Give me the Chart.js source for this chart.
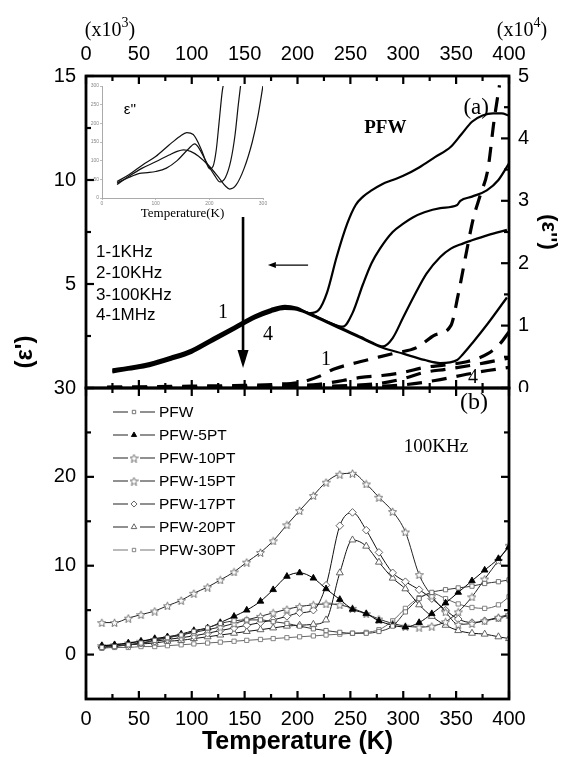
<!DOCTYPE html>
<html><head><meta charset="utf-8">
<script src="https://cdn.jsdelivr.net/npm/chart.js@4.4.1/dist/chart.umd.min.js"></script>
<style>
html,body{margin:0;padding:0;background:#fff;}
#wrap{position:relative;width:562px;height:757px;overflow:hidden;background:#fff;}
canvas{position:absolute;}
</style></head><body>
<div id="wrap">
<canvas id="top" width="562" height="392" style="left:0;top:0"></canvas>
<canvas id="bot" width="562" height="387" style="left:0;top:370px"></canvas>
<canvas id="ins" width="185" height="142" style="left:88px;top:80px"></canvas>
</div>
<script>
// ================= DATA =================
// Panel (a): epsilon' (x10^3, left axis), four frequencies
const FREQ_LABELS = ['1-1KHz','2-10KHz','3-100KHz','4-1MHz'];
const T_E1_1 = [25,40,60,80,100,120,140,160,175,188,200,212,220,228,237,247,255,262,270,280,290,300,315,330,345,355,365,375,385,393,400];
const E1_1   = [0.9,1.0,1.2,1.5,1.85,2.4,2.95,3.5,3.8,3.95,3.85,3.6,3.75,4.6,6.3,7.9,8.8,9.2,9.5,9.8,10.0,10.2,10.6,11.1,11.6,12.2,12.8,13.1,13.2,13.2,13.1];
const T_E1_2 = [25,40,60,80,100,120,140,160,175,188,200,215,230,243,252,262,270,278,290,300,309,320,335,351,354,365,379,390,400];
const E1_2   = [0.85,0.97,1.15,1.45,1.8,2.35,2.9,3.45,3.75,3.9,3.8,3.5,3.15,2.95,3.6,5.0,6.0,6.7,7.5,7.9,8.2,8.45,8.65,8.8,9.0,9.2,9.5,10.0,10.8];
const T_E1_3 = [25,40,60,80,100,120,140,160,175,188,200,215,230,245,260,270,281,290,300,310,322,335,345,354,365,380,398];
const E1_3   = [0.8,0.93,1.1,1.4,1.75,2.3,2.85,3.4,3.7,3.85,3.8,3.5,3.15,2.8,2.45,2.2,2.0,2.4,3.4,4.4,5.5,6.3,6.7,6.9,7.1,7.35,7.6];
const T_E1_4 = [25,40,60,80,100,120,140,160,175,188,200,215,230,245,260,280,300,320,335,351,356,366,380,398];
const E1_4   = [0.75,0.88,1.05,1.35,1.7,2.25,2.8,3.35,3.65,3.8,3.75,3.45,3.1,2.75,2.4,1.95,1.65,1.35,1.2,1.35,1.6,2.2,3.1,4.35];
// Panel (a): epsilon'' (x10^4, right axis), dashed
const T_E2_1 = [20,60,100,140,180,205,221,234,259,290,313,330,345,352,360,366,373,380,386,391];
const E2_1   = [0.01,0.02,0.03,0.04,0.06,0.1,0.19,0.3,0.42,0.55,0.65,0.85,1.0,1.5,2.2,2.7,3.1,3.5,4.3,4.85];
const T_E2_2 = [20,100,180,220,243,260,280,300,320,340,360,380,392,400];
const E2_2   = [0.01,0.015,0.03,0.06,0.12,0.17,0.2,0.25,0.33,0.37,0.42,0.55,0.72,0.9];
const T_E2_3 = [20,120,200,250,280,300,320,340,370,400];
const E2_3   = [0.01,0.01,0.02,0.04,0.08,0.15,0.25,0.3,0.38,0.48];
const T_E2_4 = [20,150,250,300,330,360,380,400];
const E2_4   = [0.005,0.01,0.02,0.05,0.12,0.22,0.28,0.33];
// Inset: epsilon'' low-T
const T_IN_A = [28,50,75,100,125,145,158,170,185,195,201,207,213,218,224,227];
const IN_A   = [44,62,88,111,142,165,175,170,130,92,78,85,130,200,285,310];
const T_IN_B = [28,50,70,85,100,120,140,160,173,180,195,210,220,230,240,248,254,259];
const IN_B   = [40,55,66,68,71,80,100,130,145,135,95,60,43,55,100,170,250,310];
const T_IN_C = [28,50,75,100,125,140,152,165,180,200,220,230,238,250,265,280,290,301];
const IN_C   = [36,58,80,97,115,125,129,125,112,85,50,32,24,35,80,150,215,310];
// Panel (b): 100KHz
const LEGEND_LABELS = ['PFW','PFW-5PT','PFW-10PT','PFW-15PT','PFW-17PT','PFW-20PT','PFW-30PT'];
const T_B  = [15,27,40,52,65,77,90,102,115,127,140,152,165,177,190,202,215,227,240,252,265,277,290,302,315,327,340,352,365,377,390,400];
const PFW  = [0.8,0.9,1.1,1.3,1.6,1.9,2.2,2.6,3.0,3.5,3.8,3.9,3.9,3.7,3.5,3.2,2.9,2.7,2.5,2.4,2.4,2.6,3.2,4.8,6.3,7.0,7.3,7.5,7.7,8.0,8.2,8.4];
const P5   = [1.0,1.1,1.3,1.5,1.8,2.0,2.3,2.7,3.0,3.6,4.3,5.0,6.0,7.3,8.8,9.2,8.6,7.4,6.2,5.1,4.6,3.8,3.3,3.1,3.6,4.6,5.8,7.0,8.3,9.5,10.8,12.1];
const P10  = [1.0,1.1,1.3,1.5,1.7,1.9,2.2,2.5,2.8,3.1,3.5,3.9,4.3,4.7,5.1,5.4,5.6,5.7,5.6,5.2,4.6,4.0,3.5,3.2,3.1,3.2,3.7,4.8,6.5,8.5,10.6,12.3];
const P15  = [3.6,3.6,4.1,4.5,4.9,5.5,6.1,6.9,7.6,8.4,9.3,10.4,11.5,12.8,14.6,16.2,17.9,19.4,20.3,20.4,19.2,17.7,16.1,13.8,9.0,6.6,4.8,3.4,3.5,3.8,4.2,4.5];
const P17  = [0.9,1.0,1.1,1.3,1.5,1.7,1.9,2.1,2.4,2.7,3.0,3.3,3.6,3.9,4.3,4.7,5.0,7.8,14.5,16.0,14.0,11.5,9.2,8.2,7.3,6.3,5.0,4.0,3.6,3.8,4.1,4.4];
const P20  = [0.9,1.0,1.1,1.2,1.3,1.5,1.6,1.8,2.0,2.2,2.4,2.6,2.8,3.0,3.2,3.3,3.4,3.9,9.2,12.9,12.2,10.4,8.6,7.4,5.6,4.3,3.3,2.7,2.4,2.3,2.0,1.8];
const P30  = [0.7,0.8,0.8,0.9,0.9,1.0,1.1,1.2,1.3,1.4,1.5,1.6,1.7,1.8,1.9,2.0,2.1,2.2,2.3,2.4,2.5,2.8,3.8,5.2,6.4,6.9,6.3,5.7,5.3,5.2,5.6,6.5];
// Tick values
const X_TICKS   = [0,50,100,150,200,250,300,350,400];
const X_MINOR   = [25,75,125,175,225,275,325,375];
const YA_TICKS  = [0,5,10,15];
const YA_MINOR  = [2.5,7.5,12.5];
const YAR_TICKS = [0,1,2,3,4,5];
const YAR_MINOR = [0.5,1.5,2.5,3.5,4.5];
const YB_TICKS  = [0,10,20,30];
const YB_MINOR  = [5,15,25];
const IN_X_TICKS = [0,100,200,300];
const IN_Y_TICKS = [0,50,100,150,200,250,300];

// ================= HELPERS =================
const SANS = "'Liberation Sans', Arial, Helvetica, sans-serif";
const SERIF = "'Liberation Serif', 'Times New Roman', Times, serif";
Chart.defaults.font.family = SANS;
Chart.defaults.color = '#000';
const pts = (t, v) => t.map((x, i) => ({x: x, y: v[i]}));
const setTicks = vals => s => { s.ticks = vals.map(v => ({value: v})); };
const fixSize = (prop, val) => s => { s[prop] = val; s.paddingLeft = 0; s.paddingRight = 0; s.paddingTop = 0; s.paddingBottom = 0; };
const noGrid = {display: false, drawTicks: false};
const noBorder = {display: false};

function drawFrame(chart, cfg) {
  const {ctx, chartArea: a, scales} = chart;
  const xs = scales.x, yl = scales[cfg.yl], yr = scales[cfg.yr];
  ctx.save();
  ctx.strokeStyle = '#000'; ctx.lineWidth = 2.2;
  const L = (x1, y1, x2, y2) => { ctx.beginPath(); ctx.moveTo(x1, y1); ctx.lineTo(x2, y2); ctx.stroke(); };
  const MAJ = 8, MIN = 5;
  X_TICKS.forEach(v => { const p = xs.getPixelForValue(v); L(p, a.top, p, a.top + MAJ); L(p, a.bottom, p, a.bottom - MAJ); });
  X_MINOR.forEach(v => { const p = xs.getPixelForValue(v); L(p, a.top, p, a.top + MIN); L(p, a.bottom, p, a.bottom - MIN); });
  cfg.ylMaj.forEach(v => { const p = yl.getPixelForValue(v); L(a.left, p, a.left + MAJ, p); });
  cfg.ylMin.forEach(v => { const p = yl.getPixelForValue(v); L(a.left, p, a.left + MIN, p); });
  cfg.yrMaj.forEach(v => { const p = yr.getPixelForValue(v); L(a.right, p, a.right - MAJ, p); });
  cfg.yrMin.forEach(v => { const p = yr.getPixelForValue(v); L(a.right, p, a.right - MIN, p); });
  ctx.lineWidth = 2.8;
  ctx.strokeRect(a.left, a.top, a.right - a.left, a.bottom - a.top);
  ctx.restore();
}
function supText(ctx, base, sup, cx, cy, size) {
  ctx.font = size + 'px ' + SERIF;
  const wb = ctx.measureText(base).width;
  ctx.font = Math.round(size * 0.68) + 'px ' + SERIF;
  const ws = ctx.measureText(sup).width;
  ctx.font = size + 'px ' + SERIF;
  const wc = ctx.measureText(')').width;
  const total = wb + ws + wc;
  let x = cx - total / 2;
  ctx.textAlign = 'left'; ctx.textBaseline = 'middle';
  ctx.fillText(base, x, cy); x += wb;
  ctx.font = Math.round(size * 0.68) + 'px ' + SERIF;
  ctx.fillText(sup, x, cy - size * 0.38); x += ws;
  ctx.font = size + 'px ' + SERIF;
  ctx.fillText(')', x, cy);
}
function arrow(ctx, x1, y1, x2, y2, lw, hl, hw) {
  const ang = Math.atan2(y2 - y1, x2 - x1);
  const bx = x2 - hl * Math.cos(ang), by = y2 - hl * Math.sin(ang);
  ctx.lineWidth = lw;
  ctx.beginPath(); ctx.moveTo(x1, y1); ctx.lineTo(bx, by); ctx.stroke();
  ctx.beginPath(); ctx.moveTo(x2, y2);
  ctx.lineTo(bx + hw * Math.sin(ang), by - hw * Math.cos(ang));
  ctx.lineTo(bx - hw * Math.sin(ang), by + hw * Math.cos(ang));
  ctx.closePath(); ctx.fill();
}
function makeStar(size, color) {
  const c = document.createElement('canvas'); c.width = c.height = size;
  const g = c.getContext('2d');
  g.beginPath();
  for (let i = 0; i < 10; i++) {
    const ang = -Math.PI / 2 + i * Math.PI / 5;
    const rr = i % 2 ? size * 0.21 : size * 0.47;
    g.lineTo(size / 2 + rr * Math.cos(ang), size / 2 + 0.6 + rr * Math.sin(ang));
  }
  g.closePath(); g.fillStyle = '#fff'; g.fill();
  g.strokeStyle = color; g.lineWidth = 0.9; g.stroke();
  return c;
}

// ================= PANEL (a) =================
const e1Sets = [[T_E1_1, E1_1], [T_E1_2, E1_2], [T_E1_3, E1_3], [T_E1_4, E1_4]];
const e2Sets = [[T_E2_1, E2_1], [T_E2_2, E2_2], [T_E2_3, E2_3], [T_E2_4, E2_4]];
const dsA = [];
e1Sets.forEach(([t, v]) => dsA.push({data: pts(t, v), yAxisID: 'yL', borderColor: '#000', borderWidth: 2.2, pointRadius: 0, cubicInterpolationMode: 'monotone', fill: false}));
e2Sets.forEach(([t, v]) => dsA.push({data: pts(t, v), yAxisID: 'yR', borderColor: '#000', borderWidth: 3.2, borderDash: [15, 10], pointRadius: 0, cubicInterpolationMode: 'monotone', fill: false}));

const annotA = {
  id: 'annotA',
  afterDraw(chart) {
    drawFrame(chart, {yl: 'yL', yr: 'yR', ylMaj: YA_TICKS, ylMin: YA_MINOR, yrMaj: YAR_TICKS, yrMin: YAR_MINOR});
    const {ctx, scales} = chart;
    const X = v => scales.x.getPixelForValue(v), Y = v => scales.yL.getPixelForValue(v);
    ctx.save();
    ctx.fillStyle = '#000'; ctx.strokeStyle = '#000';
    ctx.font = '17px ' + SANS; ctx.textAlign = 'left'; ctx.textBaseline = 'middle';
    const fy = [6.54, 5.53, 4.47, 3.51];
    FREQ_LABELS.forEach((s, i) => ctx.fillText(s, X(9.5), Y(fy[i])));
    ctx.font = '20px ' + SERIF; ctx.textAlign = 'center';
    [['1', 129.5, 3.6], ['4', 172, 2.55], ['1', 227, 1.35], ['4', 366, 0.48]].forEach(([s, t, v]) => ctx.fillText(s, X(t), Y(v)));
    ctx.font = 'bold 19px ' + SERIF; ctx.fillText('PFW', X(283), Y(12.5));
    ctx.font = '23px ' + SERIF; ctx.fillText('(a)', X(369), Y(13.45));
    arrow(ctx, X(148.5), Y(8.22), X(148.5), Y(0.96), 2.6, 18, 5.5);
    arrow(ctx, X(210), Y(5.91), X(172), Y(5.91), 1.2, 8, 3);
    supText(ctx, '(x10', '3', 110, 31, 20);
    supText(ctx, '(x10', '4', 522, 31, 20);
    ctx.save();
    ctx.translate(25, 352); ctx.rotate(-Math.PI / 2);
    ctx.font = 'bold 24px ' + SANS; ctx.textAlign = 'center'; ctx.textBaseline = 'middle';
    ctx.fillText("(\u03B5')", 0, 0);
    ctx.restore();
    ctx.restore();
  }
};

new Chart(document.getElementById('top'), {
  type: 'line',
  data: {datasets: dsA},
  options: {
    responsive: false, animation: false, devicePixelRatio: 1, events: [],
    layout: {padding: {left: 0, right: 0, top: 0, bottom: 4}},
    plugins: {legend: {display: false}, tooltip: {enabled: false}},
    scales: {
      x: {type: 'linear', position: 'top', min: 0, max: 400, grid: noGrid, border: noBorder,
          afterBuildTicks: setTicks(X_TICKS), afterFit: fixSize('height', 76),
          ticks: {font: {size: 20}, padding: 10, maxRotation: 0, autoSkip: false}},
      yL: {type: 'linear', position: 'left', min: 0, max: 15, grid: noGrid, border: noBorder,
           afterBuildTicks: setTicks(YA_TICKS), afterFit: fixSize('width', 86),
           ticks: {font: {size: 20}, padding: 10, callback: v => v === 0 ? '' : String(v)}},
      yR: {type: 'linear', position: 'right', min: 0, max: 5, grid: noGrid, border: noBorder,
           afterBuildTicks: setTicks(YAR_TICKS), afterFit: fixSize('width', 53),
           ticks: {font: {size: 20}, padding: 9},
           title: {display: true, text: "(\u03B5'')", font: {size: 22, weight: 'bold'}, padding: {top: 1, bottom: 0}}}
    }
  },
  plugins: [annotA]
});

// ================= INSET =================
const annotIn = {
  id: 'annotIn',
  afterDraw(chart) {
    const {ctx, scales} = chart;
    ctx.save();
    ctx.fillStyle = '#000'; ctx.font = '15px ' + SANS; ctx.textAlign = 'center'; ctx.textBaseline = 'middle';
    ctx.fillText("\u03B5''", scales.x.getPixelForValue(52), scales.y.getPixelForValue(236));
    ctx.restore();
  }
};
const inGrid = {display: true, drawOnChartArea: false, drawTicks: true, tickLength: 2, color: '#aaa', lineWidth: 0.8};
new Chart(document.getElementById('ins'), {
  type: 'line',
  data: {datasets: [[T_IN_A, IN_A], [T_IN_B, IN_B], [T_IN_C, IN_C]].map(([t, v]) => ({data: pts(t, v), borderColor: '#111', borderWidth: 1.2, pointRadius: 0, cubicInterpolationMode: 'monotone', fill: false}))},
  options: {
    responsive: false, animation: false, devicePixelRatio: 1, events: [],
    layout: {padding: {left: 0, right: 10, top: 6, bottom: 0}},
    plugins: {legend: {display: false}, tooltip: {enabled: false}},
    scales: {
      x: {type: 'linear', min: 0, max: 300, position: 'bottom', grid: inGrid, border: {display: true, color: '#aaa', width: 1},
          afterBuildTicks: setTicks(IN_X_TICKS), afterFit: fixSize('height', 24),
          ticks: {font: {size: 5}, color: '#888', padding: 1, maxRotation: 0, autoSkip: false},
          title: {display: true, text: 'Temperature(K)', font: {family: SERIF, size: 13}, color: '#000', padding: {top: 0, bottom: 1}}},
      y: {type: 'linear', min: 0, max: 300, grid: inGrid, border: {display: true, color: '#aaa', width: 1},
          afterBuildTicks: setTicks(IN_Y_TICKS), afterFit: fixSize('width', 14),
          ticks: {font: {size: 5}, color: '#888', padding: 1, autoSkip: false}}
    }
  },
  plugins: [annotIn]
});

// ================= PANEL (b) =================
const STAR = makeStar(9, '#666');
const styleB = [
  {d: PFW, ps: 'rect', r: 3, bg: '#fff', bc: '#666', lc: '#333'},
  {d: P5, ps: 'triangle', r: 3.8, bg: '#000', bc: '#000', lc: '#000'},
  {d: P10, ps: STAR, r: 4, bg: '#fff', bc: '#666', lc: '#222'},
  {d: P15, ps: STAR, r: 4, bg: '#fff', bc: '#666', lc: '#222'},
  {d: P17, ps: 'rectRot', r: 3.8, bg: '#fff', bc: '#555', lc: '#111'},
  {d: P20, ps: 'triangle', r: 4, bg: '#fff', bc: '#555', lc: '#111'},
  {d: P30, ps: 'rect', r: 3, bg: '#fff', bc: '#777', lc: '#666'}
];
const dsB = styleB.map((s, i) => ({
  label: LEGEND_LABELS[i], data: pts(T_B, s.d), yAxisID: 'yL', borderColor: s.lc, borderWidth: 1, cubicInterpolationMode: 'monotone',
  pointStyle: s.ps, pointRadius: s.r, pointBackgroundColor: s.bg, pointBorderColor: s.bc, pointBorderWidth: 0.9, fill: false
}));
const annotB = {
  id: 'annotB',
  afterDraw(chart) {
    drawFrame(chart, {yl: 'yL', yr: 'yR', ylMaj: YB_TICKS, ylMin: YB_MINOR, yrMaj: YB_TICKS, yrMin: YB_MINOR});
    const {ctx, scales, chartArea: a} = chart;
    const X = v => scales.x.getPixelForValue(v), Y = v => scales.yL.getPixelForValue(v);
    ctx.save();
    ctx.fillStyle = '#000';
    ctx.font = '24px ' + SERIF; ctx.textAlign = 'center'; ctx.textBaseline = 'middle';
    ctx.fillText('(b)', X(367), Y(28.3));
    ctx.font = '19px ' + SERIF;
    ctx.fillText('100KHz', X(331), Y(23.4));
    ctx.font = '15.5px ' + SANS; ctx.textAlign = 'left';
    chart.data.datasets.forEach((ds, i) => {
      const y = a.top + 24 + i * 23;
      ctx.strokeStyle = i === 6 ? '#777' : '#222'; ctx.lineWidth = 1.2;
      ctx.beginPath(); ctx.moveTo(113, y); ctx.lineTo(128, y); ctx.moveTo(140, y); ctx.lineTo(155, y); ctx.stroke();
      ctx.fillStyle = ds.pointBackgroundColor; ctx.strokeStyle = ds.pointBorderColor; ctx.lineWidth = 0.9;
      Chart.helpers.drawPoint(ctx, {pointStyle: ds.pointStyle, radius: ds.pointRadius * 0.8, rotation: 0, borderWidth: 0.9}, 134, y);
      ctx.fillStyle = '#000';
      ctx.fillText(LEGEND_LABELS[i], 159, y + 1);
    });
    ctx.restore();
  }
};
new Chart(document.getElementById('bot'), {
  type: 'line',
  data: {datasets: dsB},
  options: {
    responsive: false, animation: false, devicePixelRatio: 1, events: [],
    layout: {padding: {left: 0, right: 0, top: 18, bottom: 0}},
    plugins: {legend: {display: false}, tooltip: {enabled: false}},
    scales: {
      x: {type: 'linear', position: 'bottom', min: 0, max: 400, grid: noGrid, border: noBorder,
          afterBuildTicks: setTicks(X_TICKS), afterFit: fixSize('height', 58),
          ticks: {font: {size: 20}, padding: 8, maxRotation: 0, autoSkip: false},
          title: {display: true, text: 'Temperature (K)', font: {size: 25, weight: 'bold'}, padding: {top: 0, bottom: 0}}},
      yL: {type: 'linear', position: 'left', min: -5, max: 30, grid: noGrid, border: noBorder,
           afterBuildTicks: setTicks(YB_TICKS), afterFit: fixSize('width', 86),
           ticks: {font: {size: 20}, padding: 10}},
      yR: {type: 'linear', position: 'right', min: -5, max: 30, grid: noGrid, border: noBorder,
           afterFit: fixSize('width', 53), ticks: {display: false}}
    }
  },
  plugins: [annotB]
});
</script>
</body></html>
